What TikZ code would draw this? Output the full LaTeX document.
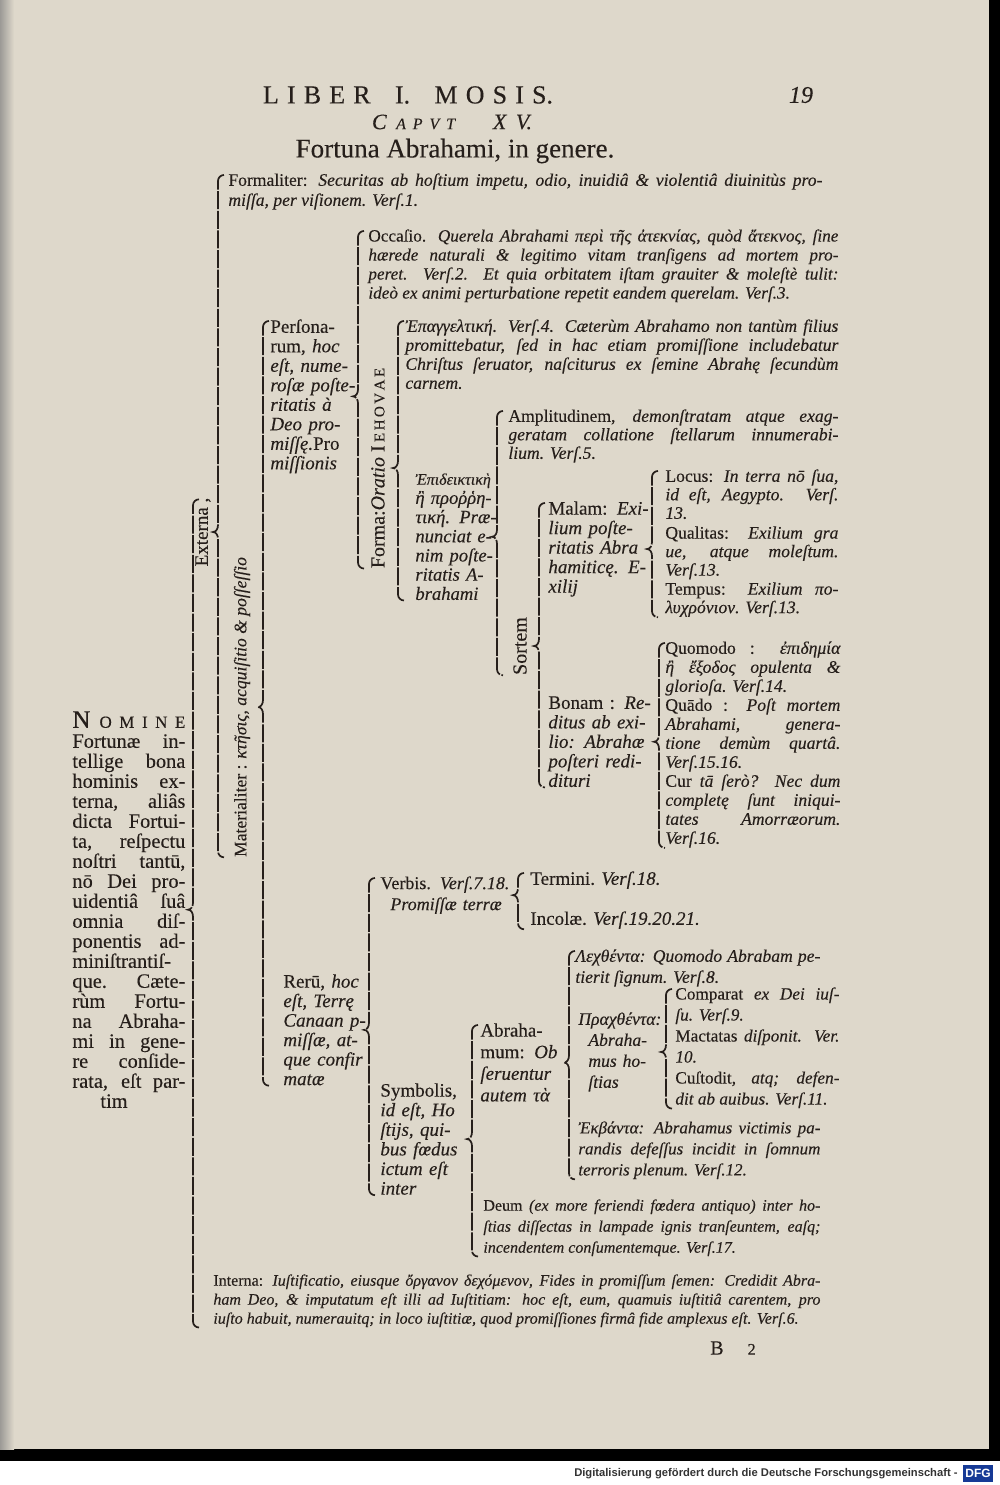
\documentclass[tikz,border=0pt]{standalone}
\usepackage{fontspec}
\setmainfont{Liberation Serif}[UprightFeatures={FakeBold=0.2}, ItalicFeatures={FakeBold=0.2}]
\setsansfont{Liberation Sans}
\usetikzlibrary{calc}
\definecolor{paper}{RGB}{222,216,203}
\definecolor{ink}{RGB}{38,31,27}
\definecolor{dfgblue}{RGB}{22,58,150}
\tolerance=10000 \hbadness=10000 \hyphenpenalty=10000 \exhyphenpenalty=10000

% bracket: x of the rule, top child, parent (tip), bottom child
\newcommand{\brc}[4]{%
  \draw[brace] let \p1=(#1,0), \p2=(#2), \p3=(#3), \p4=(#4) in
    (\x1+3pt,\y2-1pt) to[out=180,in=90] (\x1,\y2-4pt)
    -- (\x1,\y3+3.5pt) to[out=-90,in=0] (\x1-2.5pt,\y3)
    to[out=0,in=90] (\x1,\y3-3.5pt)
    -- (\x1,\y4+3pt) to[out=-90,in=180] (\x1+3pt,\y4);}

\begin{document}
\begin{tikzpicture}[x=0.5pt, y=-0.5pt, every node/.style={text=ink, inner sep=0pt},
    font=\fontsize{8.6}{9.5}\selectfont]
    \tikzset{txt/.style = {anchor=north west, align=justify, text width=#1}}
    \tikzset{col/.style = {anchor=north west, align=left, text width=#1}}
    \tikzset{lbl/.style = {rotate=90, font=\fontsize{9.5}{9.5}\selectfont}}
    \tikzset{brace/.style = {draw=ink, line width=0.85pt, dash pattern=on 9pt off 0.8pt}}

    % page
    \useasboundingbox (0,0) rectangle (1000,1485);
    \fill[black] (0,0) rectangle (1000,1485);
    \fill[paper] (0,0) rectangle (989,1449);
    \shade[left color=gray!70!paper, right color=paper] (0,0) rectangle (14,1449);
    \fill[white] (0,1461) rectangle (1000,1485);

    % head
    \node[font=\fontsize{13}{13}\selectfont] (liber) at (408,95) {\makebox[145pt][s]{L I B E R\ \ \ I.\ \ \ M O S I S.}};
    \node[font=\fontsize{12}{12}\selectfont\itshape] (folio) at (801,95) {19};
    \node[font=\fontsize{11}{11}\selectfont\itshape] (caput) at (452,122) {\makebox[80pt][s]{C {\fontsize{8}{8}\selectfont A P V T}\ \ \ \ X V.}};
    \node[font=\fontsize{13.5}{13.5}\selectfont] (titulus) at (455,151) {Fortuna Abrahami, in genere.};

    % first column
    \node[txt=56.5pt, font=\fontsize{10.2}{10}\selectfont] (nomine) at (72,711) {\hangindent=5pt\hangafter=1
        \makebox[56.5pt][s]{{\fontsize{12.5}{10}\selectfont N} {\fontsize{8.5}{10}\selectfont O M I N E}}\linebreak
        Fortunæ in-\linebreak tellige bona\linebreak hominis ex-\linebreak terna, aliâs\linebreak dicta Fortui-\linebreak
        ta, reſpectu\linebreak noſtri tantū,\linebreak nō Dei pro-\linebreak uidentiâ ſuâ\linebreak omnia diſ-\linebreak
        ponentis ad-\linebreak miniſtrantiſ-\linebreak que. Cæte-\linebreak rùm Fortu-\linebreak na Abraha-\linebreak
        mi in gene-\linebreak re conſide-\linebreak rata, eſt par-\linebreak \hspace*{14pt}tim};

    \node[lbl] (externa) at (203,532) {Externa ,};
    \node[lbl, font=\fontsize{8.8}{8.8}\selectfont] (materia) at (242,707) {Materialiter : \textit{κτῆσις, acquiſitio \& poſſeſſio}};

    \node[txt=297pt, font=\fontsize{8.8}{10}\selectfont] (formal) at (228,173) {\hangindent=6pt\hangafter=1
        Formaliter: \textit{Securitas ab hoſtium impetu, odio, inuidiâ \& violentiâ diuinitùs pro-\linebreak
        miſſa, per viſionem. Verſ.1.}};

    % Personarum
    \node[col=60pt, font=\fontsize{9.5}{9.75}\selectfont] (pers) at (270,319) {Perſona-\\ rum, \textit{hoc}\\
        \textit{eſt, nume-}\\ \textit{roſæ poſte-}\\ \textit{ritatis à}\\ \textit{Deo pro-}\\ \textit{miſſę.}Pro\\ \textit{miſſionis}};

    \node[txt=235pt, font=\fontsize{8.6}{9.5}\selectfont] (occasio) at (368,229) {\hangindent=7.5pt\hangafter=1
        Occaſio. \textit{Querela Abrahami περὶ τῆς ἀτεκνίας, quòd ἄτεκνος, ſine\linebreak
        hærede naturali \& legitimo vitam tranſigens ad mortem pro-\linebreak
        peret. Verſ.2. Et quia orbitatem iſtam grauiter \& moleſtè tulit:\linebreak
        ideò ex animi perturbatione repetit eandem querelam. Verſ.3.}};

    \node[lbl, font=\fontsize{10}{10}\selectfont] (forma) at (378,468) {Forma:\textit{Oratio} I\,{\fontsize{7.5}{7.5}\selectfont E\,H\,O\,V\,A\,E}};

    \node[txt=216.5pt, font=\fontsize{8.8}{9.5}\selectfont] (epang) at (405,319) {\hangindent=4pt\hangafter=1
        \textit{Ἐπαγγελτική. Verſ.4. Cæterùm Abrahamo non tantùm filius\linebreak
        promittebatur, ſed in hac etiam promiſſione includebatur\linebreak
        Chriſtus ſeruator, naſciturus ex ſemine Abrahę ſecundùm\linebreak carnem.}};

    \node[col=60pt, font=\fontsize{9.3}{9.6}\selectfont] (epid) at (415,473) {\itshape {\fontsize{8}{9.6}\selectfont Ἐπιδεικτικὴ}\\ ἢ προῤῥη-\\
        τική. Præ-\\ nunciat e-\\ nim poſte-\\ ritatis A-\\ brahami};

    \node[txt=165pt, font=\fontsize{8.8}{9.25}\selectfont] (ampl) at (508,409) {\hangindent=4pt\hangafter=1
        Amplitudinem, \textit{demonſtratam atque exag-\linebreak geratam collatione ſtellarum innumerabi-\linebreak lium. Verſ.5.}};

    \node[lbl, font=\fontsize{10}{10}\selectfont] (sortem) at (520,646) {Sortem};

    \node[col=60pt, font=\fontsize{9.5}{9.75}\selectfont] (malam) at (548,501) {Malam: \textit{Exi-}\\ \textit{lium poſte-}\\
        \textit{ritatis Abra}\\ \textit{hamiticę. E-}\\ \textit{xilij}};
    \node[txt=86.5pt, font=\fontsize{8.8}{9.25}\selectfont] (locus) at (665,469) {\hangindent=4pt\hangafter=1
        Locus: \textit{In terra nō ſua,\linebreak id eſt, Aegypto. Verſ.\linebreak 13.}};
    \node[txt=86.5pt, font=\fontsize{8.8}{9.25}\selectfont] (qualitas) at (665,526) {\hangindent=4pt\hangafter=1
        Qualitas: \textit{Exilium gra\linebreak ue, atque moleſtum.\linebreak Verſ.13.}};
    \node[txt=86.5pt, font=\fontsize{8.8}{9.25}\selectfont] (tempus) at (665,582) {\hangindent=4pt\hangafter=1
        Tempus: \textit{Exilium πο-\linebreak λυχρόνιον. Verſ.13.}};

    \node[col=60pt, font=\fontsize{9.5}{9.75}\selectfont] (bonam) at (548,696) {Bonam : \textit{Re-}\\ \textit{ditus ab exi-}\\
        \textit{lio: Abrahæ}\\ \textit{poſteri redi-}\\ \textit{dituri}};
    \node[txt=87.5pt, font=\fontsize{8.8}{9.5}\selectfont] (quomodo) at (665,641) {\hangindent=4pt\hangafter=1
        Quomodo : \textit{ἐπιδημία\linebreak ἢ ἔξοδος opulenta \&\linebreak glorioſa. Verſ.14.}};
    \node[txt=87.5pt, font=\fontsize{8.8}{9.5}\selectfont] (quando) at (665,698) {\hangindent=4pt\hangafter=1
        Quādo : \textit{Poſt mortem\linebreak Abrahami, genera-\linebreak tione demùm quartâ.\linebreak Verſ.15.16.}};
    \node[txt=87.5pt, font=\fontsize{8.8}{9.5}\selectfont] (cur) at (665,774) {\hangindent=4pt\hangafter=1
        Cur \textit{tā ſerò? Nec dum\linebreak completę ſunt iniqui-\linebreak tates Amorræorum.\linebreak Verſ.16.}};

    % Rerum
    \node[col=50pt, font=\fontsize{9.5}{9.75}\selectfont] (rerum) at (283,974) {Rerū, \textit{hoc}\\ \textit{eſt, Terrę}\\
        \textit{Canaan p-}\\ \textit{miſſæ, at-}\\ \textit{que confir}\\ \textit{matæ}};

    \node[col=75pt, font=\fontsize{9}{10.5}\selectfont] (verbis) at (380,876) {Verbis. \textit{Verſ.7.18.}\\ \hspace*{5pt}\textit{Promiſſæ terræ}};
    \node[anchor=north west, font=\fontsize{9.5}{9.5}\selectfont] (termini) at (530,871) {Termini. \textit{Verſ.18.}};
    \node[anchor=north west, font=\fontsize{9.5}{9.5}\selectfont] (incolae) at (530,911) {Incolæ. \textit{Verſ.19.20.21.}};

    \node[col=55pt, font=\fontsize{9.5}{9.8}\selectfont] (symbolis) at (380,1083) {Symbolis,\\ \textit{id eſt, Ho}\\
        \textit{ſtijs, qui-}\\ \textit{bus fœdus}\\ \textit{ictum eſt}\\ \textit{inter}};
    \node[col=55pt, font=\fontsize{9.5}{10.8}\selectfont] (abrahamum) at (480,1023) {Abraha-\\ mum: \textit{Ob}\\
        \textit{ſeruentur}\\ \textit{autem τὰ}};

    \node[txt=122.5pt, font=\fontsize{8.8}{10.5}\selectfont] (lecht) at (575,949) {\hangindent=6pt\hangafter=1
        \textit{Λεχθέντα: Quomodo Abrabam pe-\linebreak tierit ſignum. Verſ.8.}};
    \node[col=60pt, font=\fontsize{8.8}{10.5}\selectfont] (pracht) at (578,1012) {\itshape Πραχθέντα:\\
        \hspace*{5pt}Abraha-\\ \hspace*{5pt}mus ho-\\ \hspace*{5pt}ſtias};
    \node[txt=82pt, font=\fontsize{8.6}{10.5}\selectfont] (comparat) at (675,987) {\hangindent=6.5pt\hangafter=1
        Comparat \textit{ex Dei iuſ-\linebreak ſu. Verſ.9.}};
    \node[txt=82pt, font=\fontsize{8.6}{10.5}\selectfont] (mactatas) at (675,1029) {\hangindent=6.5pt\hangafter=1
        Mactatas \textit{diſponit. Ver.\linebreak 10.}};
    \node[txt=82pt, font=\fontsize{8.6}{10.5}\selectfont] (custodit) at (675,1071) {\hangindent=6.5pt\hangafter=1
        Cuſtodit, \textit{atq; defen-\linebreak dit ab auibus. Verſ.11.}};
    \node[txt=121pt, font=\fontsize{8.5}{10.5}\selectfont] (ecbant) at (578,1121) {\hangindent=7pt\hangafter=1
        \textit{Ἐκβάντα: Abrahamus victimis pa-\linebreak randis defeſſus incidit in ſomnum\linebreak terroris plenum. Verſ.12.}};
    \node[txt=168.5pt, font=\fontsize{8}{10.5}\selectfont] (deum) at (483,1199) {\hangindent=5pt\hangafter=1
        Deum \textit{(ex more feriendi fœdera antiquo) inter ho-\linebreak
        ſtias diſſectas in lampade ignis tranſeuntem, eaſq;\linebreak incendentem conſumentemque. Verſ.17.}};

    % Interna
    \node[txt=303.5pt, font=\fontsize{8}{9.5}\selectfont] (interna) at (213,1274) {\hangindent=6pt\hangafter=1
        Interna: \textit{Iuſtificatio, eiusque ὄργανον δεχόμενον, Fides in promiſſum ſemen: Credidit Abra-\linebreak
        ham Deo, \& imputatum eſt illi ad Iuſtitiam: hoc eſt, eum, quamuis iuſtitiâ carentem, pro\linebreak
        iuſto habuit, numerauitq; in loco iuſtitiæ, quod promiſſiones firmâ fide amplexus eſt. Verſ.6.}};

    \node[font=\fontsize{10}{10}\selectfont] (signatura) at (733,1348) {B\hspace{12pt}{\fontsize{8}{8}\selectfont 2}};

    % brackets
    \brc{193}{externa.east}{nomine.center}{interna.south west}
    \brc{218}{formal.north west}{externa.center}{materia.west}
    \brc{263}{pers.north west}{materia.center}{rerum.south west}
    \brc{358}{occasio.north west}{pers.center}{forma.west}
    \brc{398}{epang.north west}{forma.center}{epid.south west}
    \brc{497}{ampl.north west}{epid.center}{sortem.west}
    \brc{539}{malam.north west}{sortem.center}{bonam.south west}
    \brc{652}{locus.north west}{malam.center}{tempus.south west}
    \brc{659}{quomodo.north west}{bonam.center}{cur.south west}
    \brc{369}{verbis.north west}{rerum.center}{symbolis.south west}
    \brc{518}{termini.north west}{verbis.center}{incolae.south west}
    \brc{472}{abrahamum.north west}{symbolis.center}{deum.south west}
    \brc{569}{lecht.north west}{abrahamum.center}{ecbant.south west}
    \brc{666}{comparat.north west}{pracht.center}{custodit.south west}

    % footer
    \node[anchor=east, font=\sffamily\bfseries\fontsize{5.6}{6}\selectfont, text=black!80] (dfgtext) at (958,1474) {Digitalisierung gefördert durch die Deutsche Forschungsgemeinschaft -};
    \node[fill=dfgblue, text=white, font=\sffamily\bfseries\fontsize{6}{6}\selectfont, minimum width=15pt, minimum height=8.5pt] (dfglogo) at (978,1473) {DFG};
\end{tikzpicture}
\end{document}
